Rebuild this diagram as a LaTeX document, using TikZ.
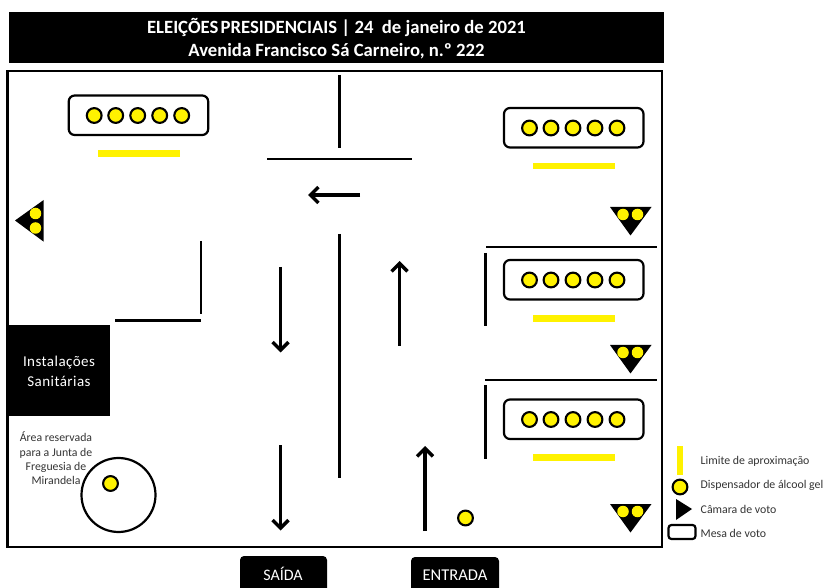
\documentclass[tikz,border=0pt]{standalone}
\usepackage{fontspec}
\setmainfont{Carlito}
\usetikzlibrary{arrows.meta}
\definecolor{ylw}{RGB}{255,242,0}
\tikzset{
 x=1pt,y=-1pt,
 blackbox/.style={fill=black,draw=none,text=white,inner sep=0pt,align=center},
 wall/.style={draw=black,line width=2.6pt},
 flow/.style={draw=black,line width=3.8pt,-{Straight Barb[length=8pt,width=16pt,line width=3.4pt]}},
 votetable/.style={draw=black,line width=2.2pt,rounded corners=6pt,fill=white},
 gel/.style={draw=black,line width=2.1pt,fill=ylw,circle,minimum size=14.8pt,inner sep=0pt},
 smalldot/.style={fill=ylw,circle,minimum size=11.5pt,inner sep=0pt},
 limit/.style={fill=ylw,draw=none},
 cabin/.style={fill=black,draw=none},
 label/.style={text=black!80,font=\fontsize{11.85}{14}\selectfont,inner sep=0pt},
}
\newcommand{\tablewithdots}[4]{%
  \draw[votetable] (#1,#2) rectangle +(139.5,39.5);
  \foreach \dx/\n in {25.5/a,47/b,69/c,91/d,113/e}{
    \node[gel] (#3\n) at (#1+\dx,#2+20) {};
  }
  \fill[limit] (#1+29,#4-3.3) rectangle (#1+111,#4+3.3);
}
\newcommand{\cabindown}[2]{%
  \fill[cabin] (610,#1) -- (651.5,#1) -- (630.5,#1+28.5) -- cycle;
  \node[smalldot] (#2a) at (623,#1+7.5) {};
  \node[smalldot] (#2b) at (637.5,#1+7.5) {};
}
\begin{document}
\begin{tikzpicture}
\useasboundingbox (0,0) rectangle (823,588);
% header
\node[blackbox,minimum width=655pt,minimum height=50.5pt] (titlebox) at (336.5,37.5) {};
\node[text=white,inner sep=0pt,align=center,font=\fontsize{18.7}{23}\selectfont\bfseries] (title) at (336.5,38.5) {ELEIÇÕES\hspace{-2pt} PRESIDENCIAIS | 24\ \ de janeiro de 2021\\Avenida Francisco Sá Carneiro, n.º 222};
% frame
\draw[draw=black,line width=2.5pt] (7.5,71) rectangle (662,547);
% walls
\coordinate (w1a) at (339.5,75); \coordinate (w1b) at (339.5,148);
\coordinate (w2a) at (267,159); \coordinate (w2b) at (412,159);
\coordinate (w3a) at (339.5,234); \coordinate (w3b) at (339.5,478);
\coordinate (w4a) at (201,241); \coordinate (w4b) at (201,314);
\coordinate (w5a) at (115,320.3); \coordinate (w5b) at (201,320.3);
\coordinate (w6a) at (486,247); \coordinate (w6b) at (657,247);
\coordinate (w7a) at (485.5,253); \coordinate (w7b) at (485.5,326);
\coordinate (w8a) at (485,380); \coordinate (w8b) at (657,380);
\coordinate (w9a) at (485.5,385.5); \coordinate (w9b) at (485.5,458.5);
\foreach \i in {1,...,9}{\draw[wall] (w\i a) -- (w\i b);}
% flow arrows
\coordinate (f1a) at (360,195); \coordinate (f1b) at (308,195);
\coordinate (f2a) at (280.5,267); \coordinate (f2b) at (280.5,352.5);
\coordinate (f3a) at (399.5,346); \coordinate (f3b) at (399.5,261);
\coordinate (f4a) at (280.5,445); \coordinate (f4b) at (280.5,530.5);
\coordinate (f5a) at (425,531); \coordinate (f5b) at (425,446);
\foreach \i in {1,...,5}{\draw[flow] (f\i a) -- (f\i b);}
% tables
\tablewithdots{68.7}{95.5}{ta}{153.5}
\tablewithdots{504}{108}{tb}{166}
\tablewithdots{504}{260}{tc}{318.5}
\tablewithdots{504}{399.5}{td}{457.5}
% cabins
\cabindown{207}{ca}
\cabindown{345}{cb}
\cabindown{504}{cc}
\fill[cabin] (15,220.5) -- (43.7,200) -- (43.7,241.7) -- cycle;
\node[smalldot] (cda) at (35.5,213.5) {};
\node[smalldot] (cdb) at (35.5,228) {};
% toilets
\node[blackbox,minimum width=102pt,minimum height=91pt] (wc) at (59,370.5) {};
\node[text=white,align=center,inner sep=0pt,font=\fontsize{15}{20.5}\selectfont] (wctext) at (59,371.5) {\addfontfeatures{LetterSpace=3}Instalações\\\addfontfeatures{LetterSpace=3}Sanitárias};
% reserved area
\node[label,align=center,font=\fontsize{11.8}{14.3}\selectfont] (areatext) at (56,458.5) {Área reservada\\para a Junta de\\Freguesia de\\Mirandela};
\node[draw=black,line width=2.2pt,circle,minimum size=74pt,inner sep=0pt] (area) at (118.5,495) {};
\node[gel] (areagel) at (110.5,483.5) {};
\node[gel] (entrygel) at (465.5,518) {};
% exits
\node[blackbox,rounded corners=4pt,minimum width=87pt,minimum height=36pt] (saida) at (283.5,574) {};
\node[text=white,inner sep=0pt,font=\fontsize{16}{18}\selectfont] (saidatext) at (283,574) {SAÍDA};
\node[blackbox,rounded corners=4pt,minimum width=88pt,minimum height=36pt] (entrada) at (455,575) {};
\node[text=white,inner sep=0pt,font=\fontsize{16.5}{18}\selectfont] (entradatext) at (455,575) {ENTRADA};
% legend
\fill[limit] (676.5,446) rectangle (682.5,474.5);
\node[gel] (leggel) at (680,487) {};
\fill[cabin] (676,499) -- (692,509) -- (676,520) -- cycle;
\draw[draw=black,line width=2.2pt,rounded corners=3pt] (668.5,525) rectangle (695.5,539);
\node[label,anchor=west] (l1) at (700.5,461) {Limite de aproximação};
\node[label,anchor=west] (l2) at (700.5,485) {Dispensador de álcool gel};
\node[label,anchor=west] (l3) at (700.5,509) {Câmara de voto};
\node[label,anchor=west] (l4) at (700.5,533) {Mesa de voto};
\end{tikzpicture}
\end{document}
